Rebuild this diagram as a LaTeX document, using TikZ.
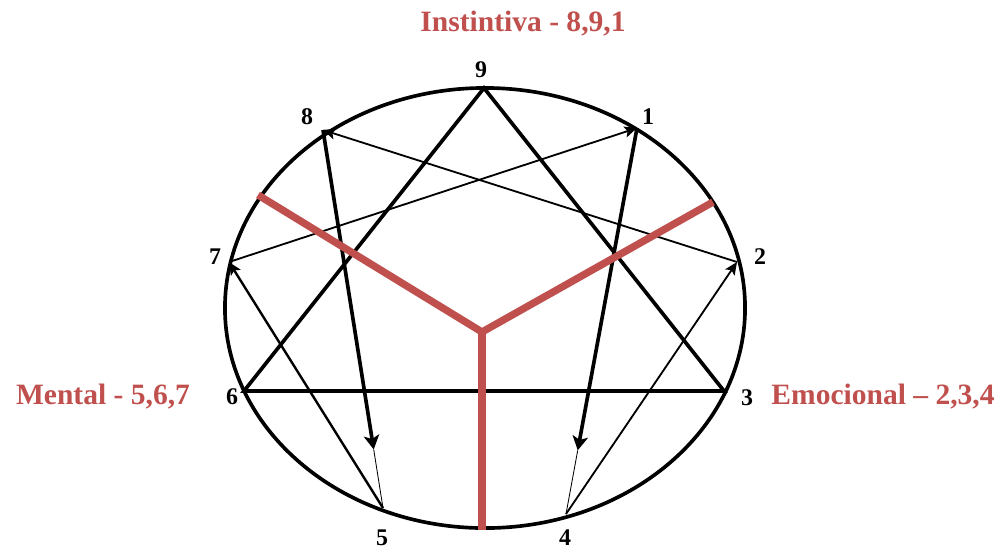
\documentclass[tikz,border=0pt]{standalone}
\usepackage{fontspec}
\setmainfont{Liberation Serif}
\usetikzlibrary{arrows.meta,calc}
\definecolor{zonered}{RGB}{192,80,77}

\begin{document}
\begin{tikzpicture}[x=0.025cm, y=-0.025cm,
  numlabel/.style={font=\fontsize{17}{19}\selectfont\bfseries, inner sep=0pt, anchor=base},
  zonelabel/.style={font=\fontsize{21}{24}\selectfont\bfseries, text=zonered, inner sep=0pt, anchor=base},
  heavy/.style={line width=2.6pt},
  light/.style={line width=1.3pt},
  hair/.style={line width=0.6pt},
  bigtip/.style={-{Stealth[length=10pt,width=11pt,inset=2.5pt]}},
  smalltip/.style={-{Stealth[length=9pt,width=8pt,inset=2pt]}},
  zoneline/.style={zonered, line width=5.2pt}]
  \useasboundingbox (0,0) rectangle (1003,549);

  % points on the ring
  \foreach \n/\x/\y in {9/484/88, 1/637/128, 2/737/262, 3/724/391, 4/566/514,
                        5/383/508, 6/244/391, 7/229/262, 8/323/130}
    \coordinate (p\n) at (\x,\y);

  % numbers
  \foreach \n/\x/\y in {9/481/77, 1/648/124, 2/760/264, 3/747/405, 4/565/545,
                        5/382/545, 6/232/404, 7/215/264, 8/307/124}
    \node[numlabel] (n\n) at (\x,\y) {\n};

  \draw[line width=2.6pt] (485,308) ellipse [x radius=6.5cm, y radius=5.5cm];

  % triangle 9-3-6
  \draw[heavy, line join=miter] (p9) -- (p3) -- (p6) -- cycle;

  % hexad 1-4-2-8-5-7-1
  \coordinate (h5) at ($(p8)!0.845!(p5)$);
  \coordinate (h4) at ($(p1)!0.835!(p4)$);
  \draw[heavy, bigtip] (p8) -- (h5);
  \draw[hair] (h5) -- (p5);
  \draw[heavy, bigtip] (p1) -- (h4);
  \draw[hair] (h4) -- (p4);
  \draw[light, smalltip] (p4) -- (p2);
  \draw[light, smalltip] (p2) -- (p8);
  \draw[light, smalltip] (p7) -- (p1);
  \draw[line width=1.7pt, smalltip] (p5) -- (p7);

  % centres
  \coordinate (zc) at (482,332);
  \coordinate (zl) at (258,195);
  \coordinate (zr) at (713,202);
  \coordinate (zb) at (482,530);
  \draw[zoneline] (zl) -- (zc) -- (zr);
  \draw[zoneline] (zc) -- (zb);

  \node[zonelabel] (instintiva) at (523,31) {Instintiva - 8,9,1};
  \node[zonelabel] (mental) at (103,404) {Mental - 5,6,7};
  \node[zonelabel] (emocional) at (883,404) {Emocional -- 2,3,4};
\end{tikzpicture}
\end{document}
